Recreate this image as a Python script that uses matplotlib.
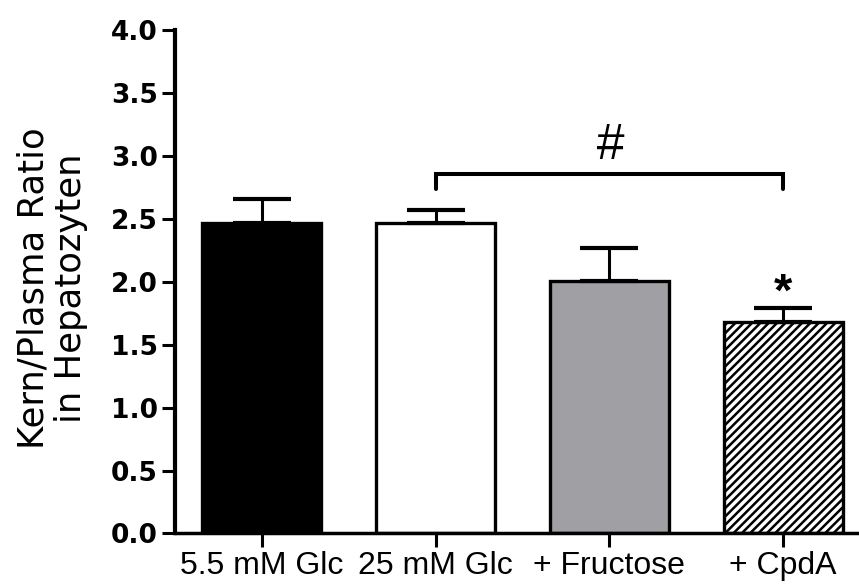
import matplotlib
matplotlib.use("Agg")
import matplotlib.pyplot as plt
import numpy as np

categories = ['5.5 mM Glc', '25 mM Glc', '+ Fructose', '+ CpdA']
means = [2.47, 2.47, 2.01, 1.68]
sem = [0.19, 0.10, 0.26, 0.11]
colors = ['#000000', '#ffffff', '#a0a0a4', '#ffffff']
hatches = [None, None, None, '////']
yticks = [0.0, 0.5, 1.0, 1.5, 2.0, 2.5, 3.0, 3.5, 4.0]
ylabel = 'Kern/Plasma Ratio\nin Hepatozyten'

plt.rcParams['hatch.linewidth'] = 1.8
plt.rcParams['hatch.color'] = 'black'

fig = plt.figure(figsize=(8.59, 5.84), dpi=100)
ax = fig.add_axes([0.2037, 0.0865, 0.795, 0.862])

x = np.arange(len(categories))
bars = ax.bar(x, means, width=0.684, color=colors, edgecolor='black',
              linewidth=2.4, zorder=2)
for b, h in zip(bars, hatches):
    if h:
        b.set_hatch(h)

ax.errorbar(x, means, yerr=[np.zeros(len(sem)), sem], fmt='none',
            ecolor='black', elinewidth=2.2, capsize=21, capthick=3.0, zorder=3)

# significance bracket between bar 2 and bar 4
ax.plot([x[1], x[1], x[3], x[3]], [2.74, 2.857, 2.857, 2.74], color='black',
        lw=2.9, solid_capstyle='round', solid_joinstyle='miter', zorder=3,
        clip_on=False)
ax.text((x[1] + x[3]) / 2, 2.976, '#', ha='center', va='baseline',
        fontsize=36, family='Liberation Sans', style='italic')
ax.text(x[3], 1.81, '*', ha='center', va='baseline', fontsize=34,
        family='Liberation Sans', fontweight='bold')

ax.set_xlim(-0.5, 3.43)
ax.set_ylim(0, 4.0)
ax.set_yticks(yticks)
ax.set_yticklabels([f'{v:.1f}' for v in yticks], fontsize=19,
                   fontweight='bold', family='DejaVu Sans')
ax.set_xticks(x)
ax.set_xticklabels(categories, fontsize=23, family='Liberation Sans')

for s in ['top', 'right']:
    ax.spines[s].set_visible(False)
ax.spines['left'].set_linewidth(3.0)
ax.spines['bottom'].set_linewidth(2.5)
ax.tick_params(axis='y', length=9.4, width=2.2, pad=3)
ax.tick_params(axis='x', length=9.8, width=2.2, pad=3)

fig.text(0.061, 0.507, ylabel, rotation=90, ha='center', va='center',
         multialignment='center', fontsize=25.5, family='DejaVu Sans',
         linespacing=1.15)

fig.savefig('out.png', dpi=100)
